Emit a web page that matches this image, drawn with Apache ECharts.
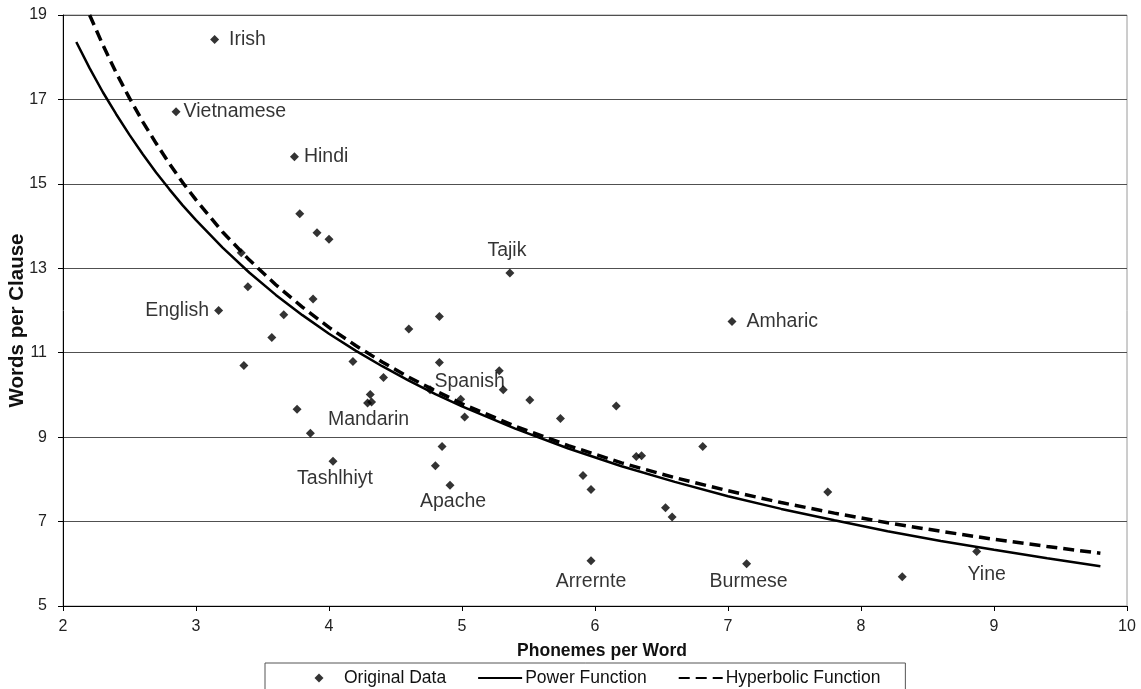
<!DOCTYPE html>
<html>
<head>
<meta charset="utf-8">
<script src="https://cdn.jsdelivr.net/npm/echarts@6/dist/echarts.min.js"></script>
<style>
html,body{margin:0;padding:0;background:#fff;}
#chart{width:1141px;height:689px;}
</style>
</head>
<body>
<div id="chart"></div>
<script>
// ---- Data ----
const phonemes = [3.14, 2.85, 3.74, 3.78, 3.91, 4.00, 3.34, 5.36, 3.39, 3.17, 3.88, 3.66, 4.83, 4.60, 7.03, 3.57, 3.36, 4.18, 4.83, 4.41, 5.28, 5.31, 4.31, 4.29, 4.32, 3.76, 3.86, 4.03, 4.76, 4.99, 5.02, 5.51, 5.74, 6.16, 4.85, 4.80, 4.91, 5.91, 5.97, 6.31, 6.35, 6.81, 6.53, 6.58, 7.75, 5.97, 7.14, 8.31, 8.87];
const wordsPerClause = [18.42, 16.71, 15.64, 14.29, 13.84, 13.69, 13.37, 12.89, 12.56, 12.00, 12.27, 11.90, 11.86, 11.56, 11.74, 11.36, 10.70, 10.79, 10.77, 10.41, 10.57, 10.12, 10.01, 9.81, 9.83, 9.66, 9.09, 8.43, 10.12, 9.90, 9.48, 9.88, 9.44, 9.74, 8.78, 8.32, 7.86, 8.09, 7.76, 8.54, 8.56, 8.78, 7.33, 7.11, 7.70, 6.07, 6.00, 5.69, 6.29];
const languages = ['Irish', 'Vietnamese', 'Hindi', '', '', '', '', 'Tajik', '', 'English', '', '', '', '', 'Amharic', '', '', '', '', '', '', '', '', 'Mandarin', '', '', '', 'Tashlhiyt', '', 'Spanish', '', '', '', '', '', '', 'Apache', '', '', '', '', '', '', '', '', 'Arrernte', 'Burmese', '', 'Yine'];

const powerX = [2.1, 2.2, 2.3, 2.4, 2.5, 2.6, 2.7, 2.8, 2.9, 3.0, 3.2, 3.4, 3.6, 3.8, 4.0, 4.2, 4.4, 4.6, 4.8, 5.0, 5.4, 5.8, 6.2, 6.6, 7.0, 7.4, 7.8, 8.2, 8.6, 9.0, 9.4, 9.8];
const powerY = [18.36, 17.74, 17.17, 16.65, 16.16, 15.70, 15.27, 14.87, 14.49, 14.14, 13.49, 12.90, 12.37, 11.89, 11.45, 11.05, 10.68, 10.34, 10.02, 9.73, 9.20, 8.73, 8.31, 7.94, 7.60, 7.30, 7.03, 6.77, 6.54, 6.33, 6.13, 5.94];

const hyperX = [2.2, 2.3, 2.4, 2.5, 2.6, 2.7, 2.8, 2.9, 3.0, 3.2, 3.4, 3.6, 3.8, 4.0, 4.2, 4.4, 4.6, 4.8, 5.0, 5.4, 5.8, 6.2, 6.6, 7.0, 7.4, 7.8, 8.2, 8.6, 9.0, 9.4, 9.8];
const hyperY = [19.00, 18.29, 17.63, 17.03, 16.47, 15.96, 15.48, 15.03, 14.62, 13.86, 13.20, 12.61, 12.08, 11.60, 11.17, 10.78, 10.42, 10.10, 9.79, 9.26, 8.80, 8.39, 8.04, 7.73, 7.45, 7.20, 6.97, 6.77, 6.58, 6.41, 6.25];

const yTickValues = [5, 7, 9, 11, 13, 15, 17, 19];
const seriesNames = ['Original Data', 'Power Function', 'Hyperbolic Function'];
const xAxisTitle = 'Phonemes per Word';
const yAxisTitle = 'Words per Clause';

// ---- Label placement (style only) ----
const SYM = 9;
function around(ox, oy) { return [SYM / 2 + ox, SYM / 2 + oy]; }
const labelPlacement = {
  Irish: {position: 'right', distance: 10},
  Vietnamese: {position: 'right', distance: 3},
  Hindi: {position: 'right', distance: 5},
  Amharic: {position: 'right', distance: 10},
  English: {position: 'left', distance: 5},
  Tajik: {position: around(-3, -22), align: 'center', verticalAlign: 'middle'},
  Spanish: {position: around(9, -18), align: 'center', verticalAlign: 'middle'},
  Mandarin: {position: around(1, 17), align: 'center', verticalAlign: 'middle'},
  Tashlhiyt: {position: around(2, 17), align: 'center', verticalAlign: 'middle'},
  Apache: {position: around(3, 16), align: 'center', verticalAlign: 'middle'},
  Arrernte: {position: around(0, 21), align: 'center', verticalAlign: 'middle'},
  Burmese: {position: around(2, 18), align: 'center', verticalAlign: 'middle'},
  Yine: {position: around(10, 23), align: 'center', verticalAlign: 'middle'}
};

const FONT = 'Liberation Sans, Arial, sans-serif';

const scatterData = phonemes.map((x, i) => {
  const name = languages[i];
  const item = {value: [x, wordsPerClause[i]], name: name};
  if (name) {
    item.label = Object.assign({show: true, formatter: name, color: '#000', fontFamily: FONT, fontSize: 19.5}, labelPlacement[name]);
  }
  return item;
});

const chart = echarts.init(document.getElementById('chart'), null, {renderer: 'canvas'});
chart.setOption({
  animation: false,
  backgroundColor: '#ffffff',
  textStyle: {fontFamily: FONT},
  grid: {left: 63, top: 15, right: 14, bottom: 83, show: true, borderColor: '#9a9a9a', borderWidth: 1, containLabel: false, outerBoundsMode: 'none'},
  legend: {
    data: [
      {name: seriesNames[0], icon: 'path://M-4.9,0M4.9,0M0,-1L1,0L0,1L-1,0Z'},
      {name: seriesNames[1], itemStyle: {opacity: 0}},
      {name: seriesNames[2], itemStyle: {opacity: 0}}
    ],
    left: 265,
    top: 663,
    orient: 'horizontal',
    itemWidth: 44,
    itemHeight: 9,
    itemGap: 31,
    symbolKeepAspect: true,
    padding: [6, 25, 20, 32],
    borderColor: '#555',
    borderWidth: 1,
    textStyle: {fontFamily: FONT, fontSize: 17.5, color: '#111', padding: [0, 0, 0, -2]},
    selectedMode: false
  },
  xAxis: {
    type: 'value',
    min: 2, max: 10, interval: 1,
    name: xAxisTitle,
    nameLocation: 'middle',
    nameGap: 36,
    nameMoveOverlap: false,
    nameTextStyle: {fontFamily: FONT, fontSize: 17.5, fontWeight: 'bold', color: '#111', padding: [0, 0, 0, 14]},
    axisLine: {show: true, onZero: false, lineStyle: {color: '#000', width: 1}},
    axisTick: {show: true, inside: false, length: 5, lineStyle: {color: '#000'}},
    axisLabel: {fontFamily: FONT, fontSize: 16, color: '#222', margin: 13},
    splitLine: {show: false}
  },
  yAxis: {
    type: 'value',
    min: 5, max: 19,
    name: yAxisTitle,
    nameLocation: 'middle',
    nameGap: 35,
    nameMoveOverlap: false,
    nameTextStyle: {fontFamily: FONT, fontSize: 20.5, fontWeight: 'bold', color: '#111', padding: [0, 20, 0, 0]},
    axisLine: {show: true, onZero: false, lineStyle: {color: '#000', width: 1}},
    axisTick: {show: true, inside: false, length: 5, customValues: yTickValues, lineStyle: {color: '#000'}},
    axisLabel: {fontFamily: FONT, fontSize: 16, color: '#222', margin: 16, customValues: yTickValues},
    splitLine: {show: true, lineStyle: {color: '#505050', width: 1}}
  },
  series: [
    {
      name: seriesNames[0],
      type: 'scatter',
      symbol: 'diamond',
      symbolSize: SYM,
      itemStyle: {color: '#000'},
      label: {show: false, fontFamily: FONT, fontSize: 19.5, color: '#000'},
      data: scatterData,
      z: 3
    },
    {
      name: seriesNames[1],
      type: 'line',
      symbol: 'none',
      smooth: false,
      lineStyle: {color: '#000', width: 2.5, type: 'solid'},
      itemStyle: {color: '#000'},
      data: powerX.map((x, i) => [x, powerY[i]]),
      z: 2
    },
    {
      name: seriesNames[2],
      type: 'line',
      symbol: 'none',
      smooth: false,
      lineStyle: {color: '#000', width: 3.5, type: [11, 6]},
      itemStyle: {color: '#000'},
      data: hyperX.map((x, i) => [x, hyperY[i]]),
      z: 2
    }
  ]
});
</script>
</body>
</html>
